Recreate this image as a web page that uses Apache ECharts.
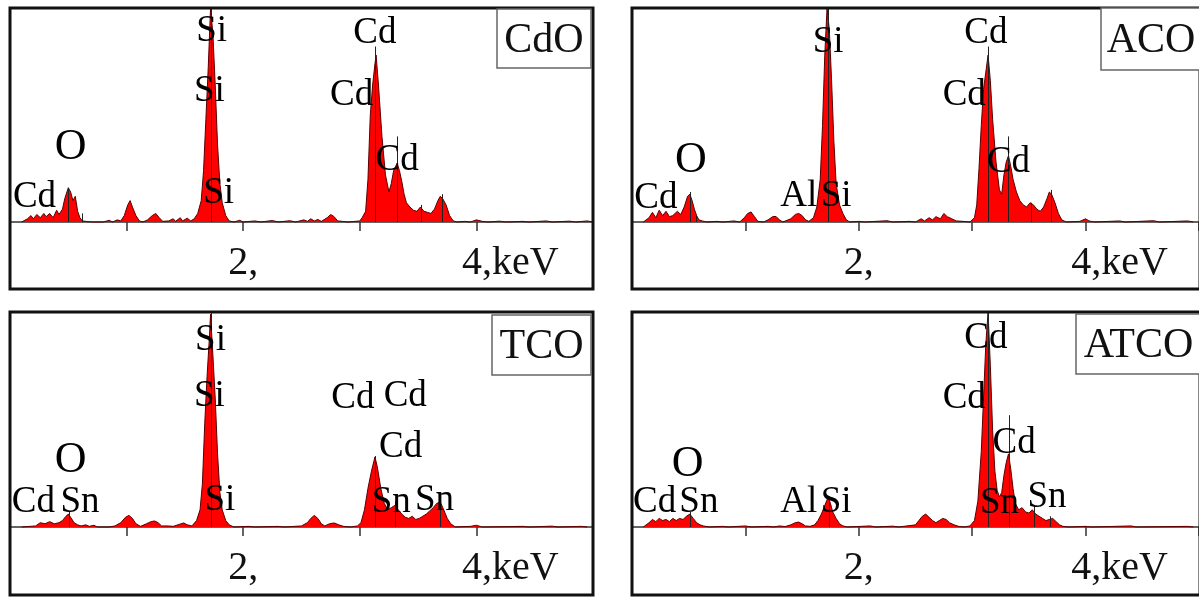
<!DOCTYPE html>
<html>
<head>
<meta charset="utf-8">
<script src="https://cdn.jsdelivr.net/npm/echarts@6.0.0/dist/echarts.min.js"></script>
<style>
  html, body { margin: 0; padding: 0; background: #fff; }
  #main { width: 1199px; height: 597px; }
</style>
</head>
<body>
<div id="main"></div>
<script>
// EDS spectra, energy in keV, counts normalised so that the frame top = 100
var cdoEnergy = [0.10,0.15,0.18,0.20,0.23,0.26,0.29,0.31,0.34,0.37,0.40,0.42,0.45,0.47,0.50,0.52,0.54,0.56,0.58,0.60,0.62,0.65,0.70,0.80,0.85,0.88,0.92,0.95,0.98,1.01,1.03,1.05,1.08,1.11,1.14,1.18,1.22,1.25,1.28,1.31,1.36,1.40,1.42,1.46,1.48,1.52,1.55,1.58,1.61,1.64,1.66,1.68,1.70,1.72,1.74,1.76,1.78,1.80,1.82,1.85,1.88,1.92,1.97,2.00,2.10,2.15,2.25,2.30,2.40,2.45,2.52,2.55,2.58,2.61,2.64,2.67,2.72,2.75,2.78,2.81,2.85,2.90,2.96,3.00,3.02,3.05,3.07,3.09,3.11,3.13,3.14,3.16,3.19,3.22,3.25,3.27,3.29,3.32,3.34,3.36,3.38,3.40,3.43,3.46,3.49,3.52,3.55,3.58,3.61,3.64,3.67,3.69,3.71,3.74,3.77,3.80,3.83,3.90,3.95,4.00,4.05,4.10,4.20,4.25,4.40,4.45,4.60,4.65,4.80,4.85,4.95,5.00];
var cdoCounts = [0,1.5,3,1.5,3.5,2,4,2.5,4,2,5.5,3.5,6,11,16,14,10,12,5,2,0.5,0.3,0,0,0.8,0,1,0.5,3,8,10,7,3,0.5,0,1,3,4,2,0.3,0.5,1.5,0.3,2,0.5,1.8,0.5,1.5,4,10,24,48,72,100,88,64,36,18,9,3,0.5,0,0.8,0,0.5,0,0.7,0,0.6,0,1,0.3,1.5,0.5,1.2,0.3,2,3.5,2.5,0.5,0.3,0,0.3,0.5,2,5,20,50,64,74,78,64,40,22,14,18,24,27.5,24,19,13,9,7,5.5,5,7,5,4.5,4,6,10,12,11,8,3,0.6,0,0.3,0,1,0.3,0,0.4,0,0.3,0,0.5,0,0.4,0,0.5,0];

var acoEnergy = [0.10,0.15,0.18,0.21,0.24,0.27,0.30,0.33,0.36,0.40,0.43,0.46,0.49,0.51,0.53,0.55,0.57,0.59,0.62,0.66,0.75,0.80,0.90,0.95,0.99,1.02,1.05,1.08,1.11,1.16,1.20,1.24,1.27,1.30,1.33,1.40,1.44,1.47,1.50,1.53,1.56,1.60,1.63,1.66,1.68,1.70,1.72,1.74,1.76,1.78,1.80,1.83,1.86,1.89,1.92,2.00,2.05,2.25,2.30,2.45,2.50,2.55,2.58,2.62,2.65,2.68,2.72,2.75,2.78,2.82,2.86,2.92,2.98,3.02,3.04,3.06,3.08,3.10,3.12,3.14,3.16,3.18,3.21,3.24,3.26,3.28,3.30,3.32,3.34,3.36,3.39,3.42,3.45,3.48,3.51,3.54,3.57,3.60,3.63,3.66,3.68,3.70,3.73,3.76,3.79,3.83,3.95,4.00,4.03,4.08,4.30,4.35,4.60,4.65,4.90,4.95];
var acoCounts = [0,2,4.5,2,5.5,3,5,2.5,3,5,3.5,7,12,13,10,6,3,1,0.5,0,0.3,0,0.5,0,2,4,4.7,2.5,0.3,0,1,2.5,2.6,1,0,1.5,3.5,4,3,1,0.3,2,7,20,45,78,100,90,66,38,18,8,4,1,0,0.3,0,0.6,0,0.3,0,1.5,0.5,2,1,2.5,1.5,4,2.5,1.5,0.5,0.3,0,2,8,25,45,62,70,78,66,48,28,15,13,22,28,31,26,20,14,10,8,7,9,8,6,5,7,11,14,13,9,4,1,0,0.3,1.5,0.5,0,0.5,0,0.6,0,0.5,0];

var tcoEnergy = [0.10,0.22,0.26,0.30,0.34,0.38,0.42,0.45,0.48,0.50,0.52,0.55,0.58,0.61,0.65,0.68,0.72,0.75,0.85,0.90,0.95,0.99,1.02,1.05,1.08,1.12,1.17,1.21,1.24,1.27,1.30,1.36,1.40,1.45,1.49,1.52,1.56,1.60,1.63,1.65,1.67,1.69,1.71,1.72,1.74,1.76,1.78,1.80,1.82,1.85,1.88,1.92,2.05,2.10,2.30,2.35,2.50,2.55,2.58,2.61,2.64,2.67,2.70,2.74,2.78,2.82,2.86,2.92,2.98,3.01,3.04,3.07,3.10,3.13,3.15,3.18,3.21,3.24,3.27,3.30,3.33,3.36,3.39,3.42,3.45,3.48,3.51,3.54,3.57,3.60,3.63,3.66,3.69,3.72,3.75,3.78,3.82,3.95,4.00,4.05,4.40,4.45,4.65,4.70,4.90,4.95];
var tcoCounts = [0,0.5,2,1.5,2.5,1.5,2,3,5,6,4.5,2,1,0.5,1,0.3,0.8,0,0,0.5,2,4.5,5.4,4,1.5,0.3,1.5,2.5,2.8,2,0.5,0.5,0.3,1.2,1.9,1,0.5,3,8,20,48,70,88,99,80,60,34,16,8,3,1,0,0.3,0,0.3,0,0.5,2,4,5.4,4,1.5,0.5,1.5,1.9,1,0.3,0,0.5,2,8,18,26,32.6,28,18,11,8,9,10,8,6,4.5,4,5,3.5,4,5,6,7.5,9,11,11.6,8,4,1.5,0,0.3,0.8,0,0.3,0,0.4,0,0.3,0];

var atcoEnergy = [0.10,0.15,0.18,0.21,0.24,0.27,0.30,0.33,0.36,0.39,0.42,0.45,0.48,0.51,0.54,0.57,0.60,0.63,0.68,0.80,0.85,1.00,1.05,1.20,1.25,1.30,1.35,1.40,1.44,1.47,1.50,1.53,1.57,1.61,1.64,1.67,1.70,1.73,1.75,1.77,1.80,1.83,1.86,1.90,2.10,2.15,2.30,2.35,2.50,2.53,2.56,2.59,2.62,2.65,2.68,2.71,2.74,2.77,2.80,2.84,2.88,2.93,2.98,3.02,3.05,3.08,3.10,3.12,3.14,3.16,3.18,3.20,3.22,3.24,3.26,3.28,3.30,3.32,3.34,3.36,3.38,3.41,3.44,3.47,3.50,3.53,3.56,3.59,3.62,3.65,3.68,3.71,3.74,3.77,3.80,3.85,4.00,4.05,4.40,4.45,4.90,4.95];
var atcoCounts = [0,2,3.5,2.5,4,3,3.5,2.5,4,3,4,3.5,5,6,4,2,1,0.5,0,0.3,0,0.5,0,0.3,0,0.5,0.2,1,2,2.3,1.5,0.5,0.3,1,3,6,10,14,11,7,4,1.5,0.5,0,0.5,0,0.4,0,1,3,5,6,4.5,3,2,3,4,3.5,2,1,0.3,0,0.5,3,12,35,60,85,100,75,45,26,17,14,16,24,30,34,27,18,11,8,9,7,6.5,8,6,5,4,3,3.5,4,2.5,1,0.3,0,0.3,0,0.5,0,0.3,0];

// line-marker energies and their heights
var cdoMarkE = [0.50,0.62,1.73,3.13,3.32,3.53,3.71];
var cdoMarkH = [16,4,100,82,40,8,13];
var acoMarkE = [0.51,0.57,1.73,3.14,3.32,3.52,3.70];
var acoMarkH = [14,3,100,82,40,9,15];
var tcoMarkE = [0.51,1.73,3.13,3.30,3.69];
var tcoMarkH = [7,100,33,12,12];
var atcoMarkE = [0.51,1.74,3.14,3.33,3.55,3.69];
var atcoMarkH = [7,14,100,52,10,5];

// element annotations: text and anchor (keV, intensity)
var cdoTags = ['Si','Si','Si','Cd','Cd','Cd','O','Cd'];
var cdoTagE = [1.73,1.71,1.79,3.13,2.93,3.32,0.52,0.21];
var cdoTagI = [89,61,13.5,88,59,29,35,11.7];
var acoTags = ['Si','Cd','Cd','Cd','O','Cd','Al','Si'];
var acoTagE = [1.73,3.12,2.93,3.32,0.52,0.21,1.47,1.80];
var acoTagI = [84,88,59,28,29,11,12,12];
var tcoTags = ['Si','Si','Si','Cd','Cd','Cd','Sn','Sn','O','Cd','Sn'];
var tcoTagE = [1.72,1.71,1.80,2.94,3.39,3.35,3.27,3.64,0.52,0.20,0.60];
var tcoTagI = [87,61,12.6,60,61,37,11.6,12.6,31,11.6,11.6];
var atcoTags = ['Cd','Cd','Cd','Sn','Sn','O','Cd','Sn','Al','Si'];
var atcoTagE = [3.12,2.93,3.37,3.24,3.66,0.49,0.20,0.59,1.47,1.80];
var atcoTagI = [88,60,39,11,14,29,11.6,11.6,11.6,11.6];

var sampleNames = ['CdO','ACO','TCO','ATCO'];

var panels = [
  { name: sampleNames[0], E: cdoEnergy, I: cdoCounts, mE: cdoMarkE, mH: cdoMarkH, tags: cdoTags, tE: cdoTagE, tI: cdoTagI,
    plot: { left: 10, top: 8, width: 583, height: 214 }, frame: [10, 8, 583, 281], box: [497, 9, 94, 59] },
  { name: sampleNames[1], E: acoEnergy, I: acoCounts, mE: acoMarkE, mH: acoMarkH, tags: acoTags, tE: acoTagE, tI: acoTagI,
    plot: { left: 632, top: 8, width: 567, height: 214 }, frame: [632, 8, 568, 281], box: [1101, 8, 100, 62] },
  { name: sampleNames[2], E: tcoEnergy, I: tcoCounts, mE: tcoMarkE, mH: tcoMarkH, tags: tcoTags, tE: tcoTagE, tI: tcoTagI,
    plot: { left: 10, top: 312, width: 583, height: 215 }, frame: [10, 312, 583, 283], box: [492, 315, 99, 60] },
  { name: sampleNames[3], E: atcoEnergy, I: atcoCounts, mE: atcoMarkE, mH: atcoMarkH, tags: atcoTags, tE: atcoTagE, tI: atcoTagI,
    plot: { left: 632, top: 312, width: 567, height: 215 }, frame: [632, 312, 568, 283], box: [1076, 314, 125, 60] }
];

var FONT = 'Liberation Serif';
var grids = [], xAxes = [], yAxes = [], series = [], graphics = [];

panels.forEach(function (p, i) {
  grids.push(Object.assign({ show: false, containLabel: false, outerBoundsMode: 'none' }, p.plot));

  xAxes.push({
    type: 'value', gridIndex: i, min: 0, max: 5, interval: 1, position: 'bottom',
    axisLine: { onZero: false, lineStyle: { color: '#333', width: 1.5 } },
    axisTick: { show: true, inside: false, length: 9, lineStyle: { color: '#333', width: 1.5 } },
    splitLine: { show: false },
    axisLabel: {
      margin: 21, fontFamily: FONT, fontSize: 40, color: '#111',
      showMinLabel: true, showMaxLabel: true, hideOverlap: false,
      formatter: function (v) {
        if (v === 2) return '2,';
        if (v === 4) return '{k|4,keV}';
        return '';
      },
      rich: { k: { fontFamily: FONT, fontSize: 40, color: '#111', padding: [0, 0, 0, 68] } }
    }
  });

  yAxes.push({ type: 'value', gridIndex: i, min: 0, max: 100, show: false, splitLine: { show: false } });

  series.push({
    type: 'line', xAxisIndex: i, yAxisIndex: i, symbol: 'none', silent: true, clip: false,
    data: p.E.map(function (e, k) { return [e, p.I[k]]; }),
    lineStyle: { color: '#5a0000', width: 1 },
    areaStyle: { color: '#ff0000', opacity: 1 },
    markLine: {
      symbol: 'none', silent: true, animation: false,
      label: { show: false },
      lineStyle: { color: '#222', width: 1, type: 'solid' },
      data: p.mE.map(function (e, k) { return [{ coord: [e, 0] }, { coord: [e, p.mH[k]] }]; })
    },
    z: 2
  });

  series.push({
    type: 'scatter', xAxisIndex: i, yAxisIndex: i, silent: true, symbolSize: 1,
    itemStyle: { color: 'rgba(255,255,255,0)', opacity: 1 },
    data: p.tags.map(function (t, k) { return [p.tE[k], p.tI[k], t]; }),
    label: {
      show: true, position: 'inside', color: '#000', opacity: 1,
      textBorderWidth: 0, fontFamily: FONT, fontSize: 37,
      formatter: function (q) { return q.data[2] === 'O' ? '{o|O}' : q.data[2]; },
      rich: { o: { fontFamily: FONT, fontSize: 44, color: '#000' } }
    },
    z: 5
  });

  graphics.push({
    type: 'rect', shape: { x: p.frame[0], y: p.frame[1], width: p.frame[2], height: p.frame[3] },
    style: { fill: 'none', stroke: '#111', lineWidth: 3 }, z: 9
  });
  graphics.push({
    type: 'rect', shape: { x: p.box[0], y: p.box[1], width: p.box[2], height: p.box[3] },
    style: { fill: '#fff', stroke: '#666', lineWidth: 1.5 }, z: 10
  });
  graphics.push({
    type: 'text', x: p.box[0] + p.box[2] / 2, y: p.box[1] + p.box[3] / 2 + 2,
    style: { text: p.name, font: '42px "Liberation Serif"', fill: '#111', align: 'center', verticalAlign: 'middle' }, z: 11
  });
});

var chart = echarts.init(document.getElementById('main'), null, { renderer: 'canvas' });
chart.setOption({
  animation: false,
  backgroundColor: '#fff',
  grid: grids,
  xAxis: xAxes,
  yAxis: yAxes,
  series: series,
  graphic: graphics
});
</script>
</body>
</html>
